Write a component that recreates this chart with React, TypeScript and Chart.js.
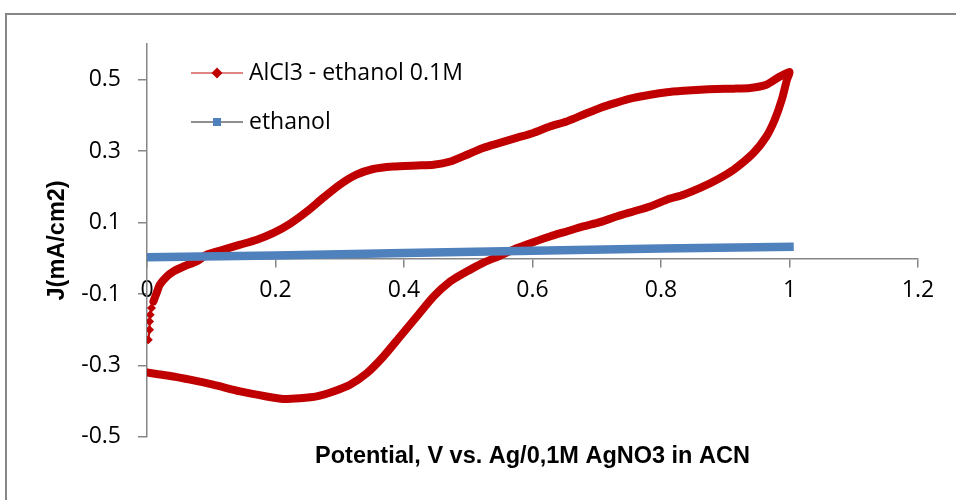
import React, { useEffect, useRef } from 'react';
import { Chart, registerables } from 'chart.js';

Chart.register(...registerables);

// AlCl3 - ethanol 0.1M : cyclic voltammogram (forward scan, then reverse scan)
const redX = [
  0.002, 0.004, 0.004, 0.005, 0.007,
  0.010, 0.015, 0.020, 0.031, 0.041, 0.057, 0.077, 0.093, 0.119, 0.145, 0.171, 0.197,
  0.223, 0.249, 0.274, 0.300, 0.326, 0.352, 0.383, 0.420, 0.446, 0.472, 0.498, 0.523,
  0.549, 0.575, 0.601, 0.627, 0.653, 0.679, 0.705, 0.731, 0.757, 0.783, 0.809, 0.835,
  0.861, 0.887, 0.913, 0.939, 0.964, 0.985, 1.000,
  0.996, 0.988, 0.977, 0.964, 0.944, 0.913, 0.887, 0.861, 0.835, 0.809, 0.783, 0.757,
  0.731, 0.705, 0.679, 0.653, 0.627, 0.601, 0.575, 0.549, 0.523, 0.508, 0.490, 0.472,
  0.446, 0.420, 0.394, 0.368, 0.342, 0.316, 0.290, 0.264, 0.238, 0.212, 0.186, 0.145,
  0.103, 0.067, 0.041, 0.015, 0.000,
];
const redY = [
  -0.228, -0.200, -0.177, -0.158, -0.139,
  -0.121, -0.097, -0.074, -0.051, -0.037, -0.023, -0.009, 0.010, 0.024, 0.038, 0.052, 0.071,
  0.097, 0.131, 0.169, 0.206, 0.234, 0.250, 0.257, 0.260, 0.262, 0.271, 0.290, 0.309,
  0.323, 0.337, 0.351, 0.369, 0.383, 0.402, 0.421, 0.436, 0.449, 0.458, 0.465, 0.469,
  0.472, 0.474, 0.475, 0.477, 0.486, 0.509, 0.522,
  0.500, 0.444, 0.388, 0.341, 0.295, 0.248, 0.220, 0.197, 0.178, 0.164, 0.145, 0.131,
  0.117, 0.101, 0.089, 0.075, 0.061, 0.045, 0.028, 0.007, -0.013, -0.027, -0.045, -0.065,
  -0.107, -0.163, -0.219, -0.275, -0.322, -0.354, -0.373, -0.387, -0.392, -0.394, -0.387, -0.373,
  -0.354, -0.340, -0.331, -0.324, -0.320,
];

// ethanol
const blueX = [0, 0.2, 0.4, 0.6, 0.8, 1.0];
const blueY = [0.003, 0.008, 0.015, 0.021, 0.027, 0.032];

const seriesNames = ['AlCl3 - ethanol 0.1M', 'ethanol'];
const xTicks = [0, 0.2, 0.4, 0.6, 0.8, 1, 1.2];
const yTicks = [-0.5, -0.3, -0.1, 0.1, 0.3, 0.5];
const xTitle = 'Potential, V vs. Ag/0,1M AgNO3 in ACN';
const yTitle = 'J(mA/cm2)';

const RED = '#C00000';
const BLUE = '#4F81BD';
const AXIS = '#868686';
const TICK_FONT = { family: "'Open Sans', sans-serif", size: 23 };
const TITLE_FONT = { family: "'Liberation Sans', sans-serif", size: 23.5, weight: 'bold' as const };

const legendPlugin = {
  id: 'insideLegend',
  afterDraw(chart: any) {
    const { ctx, chartArea } = chart;
    const x0 = chartArea.left + 44;
    const rows = [chartArea.top + 29, chartArea.top + 78];
    ctx.save();
    // row 1
    ctx.strokeStyle = '#D65C5C';
    ctx.lineWidth = 1.5;
    ctx.beginPath();
    ctx.moveTo(x0, rows[0]);
    ctx.lineTo(x0 + 52, rows[0]);
    ctx.stroke();
    ctx.fillStyle = RED;
    ctx.beginPath();
    ctx.moveTo(x0 + 26, rows[0] - 5.5);
    ctx.lineTo(x0 + 31.5, rows[0]);
    ctx.lineTo(x0 + 26, rows[0] + 5.5);
    ctx.lineTo(x0 + 20.5, rows[0]);
    ctx.closePath();
    ctx.fill();
    // row 2
    ctx.strokeStyle = '#6A6A6A';
    ctx.beginPath();
    ctx.moveTo(x0, rows[1]);
    ctx.lineTo(x0 + 52, rows[1]);
    ctx.stroke();
    ctx.fillStyle = BLUE;
    ctx.fillRect(x0 + 22, rows[1] - 4, 8, 8);
    // labels
    ctx.fillStyle = '#000';
    ctx.font = `${TICK_FONT.size}px ${TICK_FONT.family}`;
    ctx.textBaseline = 'middle';
    ctx.textAlign = 'left';
    ctx.fillText(seriesNames[0], x0 + 58, rows[0]);
    ctx.fillText(seriesNames[1], x0 + 58, rows[1]);
    ctx.restore();
  },
};

export default function App() {
  const ref = useRef<HTMLCanvasElement>(null);

  useEffect(() => {
    if (!ref.current) return;
    const chart = new Chart(ref.current, {
      type: 'scatter',
      data: {
        datasets: [
          {
            label: seriesNames[1],
            data: blueX.map((x, i) => ({ x, y: blueY[i] })),
            showLine: true,
            borderColor: BLUE,
            backgroundColor: BLUE,
            borderWidth: 8.5,
            borderCapStyle: 'square',
            pointRadius: 0,
            tension: 0,
          },
          {
            label: seriesNames[0],
            data: redX.map((x, i) => ({ x, y: redY[i] })),
            showLine: true,
            borderColor: RED,
            backgroundColor: RED,
            borderWidth: 8,
            borderCapStyle: 'round',
            borderJoinStyle: 'round',
            pointStyle: 'rectRot',
            pointRadius: (c: any) => (c.dataIndex < 5 ? 4.5 : 0),
            pointBorderWidth: 0,
            tension: 0.2,
            segment: {
              borderWidth: (c: any) => (c.p1DataIndex <= 5 ? 2 : 8),
            },
          },
        ],
      },
      options: {
        animation: false,
        responsive: false,
        devicePixelRatio: 1,
        layout: { padding: { left: 0, right: 38, top: 44, bottom: 25 } },
        plugins: {
          legend: { display: false },
          tooltip: { enabled: false },
          title: {
            display: true,
            position: 'bottom',
            fullSize: false,
            text: xTitle,
            color: '#000',
            font: TITLE_FONT,
            padding: { top: 6, bottom: 4 },
          },
        },
        scales: {
          x: {
            type: 'linear',
            position: { y: 0 },
            min: 0,
            max: 1.2,
            afterBuildTicks: (s: any) => {
              s.ticks = xTicks.map((v) => ({ value: v }));
            },
            afterFit: (s: any) => {
              s.paddingLeft = 0;
              s.paddingRight = 0;
            },
            grid: {
              display: true,
              drawOnChartArea: false,
              drawTicks: true,
              tickLength: 8,
              color: AXIS,
              lineWidth: 1.5,
            },
            border: { display: true, color: AXIS, width: 1.5 },
            ticks: {
              color: '#000',
              font: TICK_FONT,
              padding: 10,
              maxRotation: 0,
              autoSkip: false,
              callback: (v: any) => String(Number(Number(v).toFixed(1))),
            },
          },
          y: {
            type: 'linear',
            position: 'left',
            min: -0.5,
            max: 0.6,
            afterBuildTicks: (s: any) => {
              s.ticks = yTicks.map((v) => ({ value: v }));
            },
            afterFit: (s: any) => {
              s.width = 147;
              s.paddingTop = 0;
              s.paddingBottom = 0;
            },
            grid: {
              display: true,
              drawOnChartArea: false,
              drawTicks: true,
              tickLength: 9,
              color: AXIS,
              lineWidth: 1.5,
            },
            border: { display: true, color: AXIS, width: 1.5 },
            ticks: {
              color: '#000',
              font: TICK_FONT,
              padding: 17,
              autoSkip: false,
              callback: (v: any) => Number(v).toFixed(1),
            },
            title: {
              display: true,
              text: yTitle,
              color: '#000',
              font: TITLE_FONT,
              padding: { top: 43, bottom: 0 },
            },
          },
        },
      },
      plugins: [legendPlugin],
    });
    return () => chart.destroy();
  }, []);

  return (
    <div style={{ position: 'absolute', left: 0, top: 0, width: 956, height: 500, background: '#fff', overflow: 'hidden' }}>
      <div
        style={{
          position: 'absolute',
          left: 5,
          top: 13,
          width: 1000,
          height: 600,
          borderLeft: `2px solid ${AXIS}`,
          borderTop: `2px solid ${AXIS}`,
        }}
      />
      <canvas ref={ref} width={956} height={500} style={{ position: 'absolute', left: 0, top: 0 }} />
    </div>
  );
}
